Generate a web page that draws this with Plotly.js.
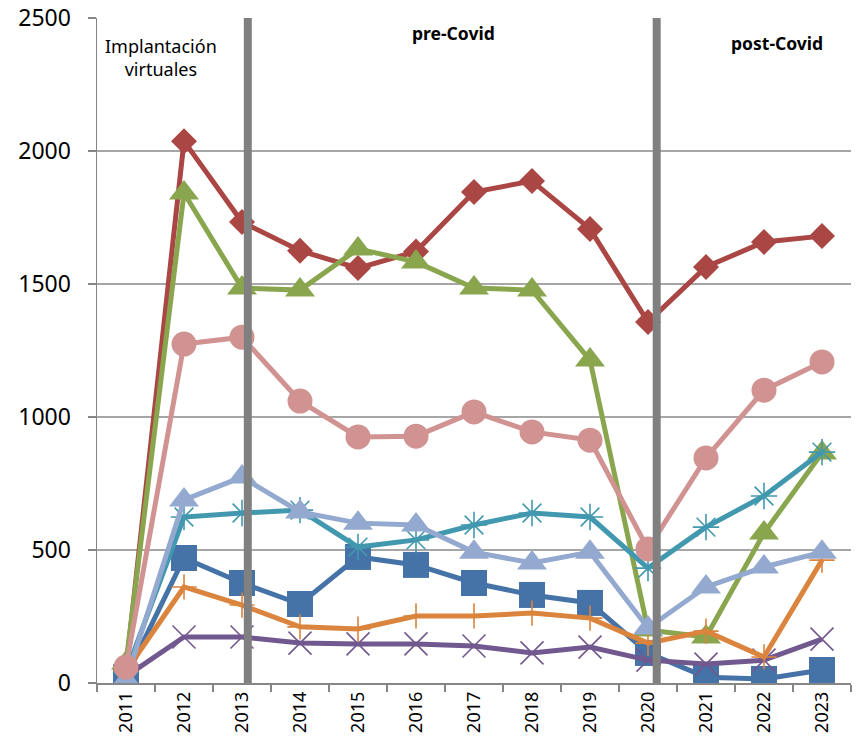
<!DOCTYPE html>
<html>
<head>
<meta charset="utf-8">
<script src="https://cdn.plot.ly/plotly-3.0.1.min.js"></script>
<style>html,body{margin:0;padding:0;background:#fff;}#chart{width:860px;height:744px;}</style>
</head>
<body>
<div id="chart"></div>
<script>
const years = ['2011','2012','2013','2014','2015','2016','2017','2018','2019','2020','2021','2022','2023'];

const seriesBlue   = [22, 470, 376, 297, 474, 444, 376, 331, 301, 113, 22, 15, 49];
const seriesRed    = [50, 2037, 1733, 1625, 1560, 1622, 1846, 1887, 1707, 1357, 1564, 1658, 1680];
const seriesGreen  = [75, 1842, 1485, 1477, 1632, 1583, 1485, 1477, 1214, 199, 173, 564, 865];
const seriesPurple = [25, 173, 173, 150, 147, 147, 139, 113, 135, 86, 71, 86, 165];
const seriesTeal   = [40, 624, 639, 650, 511, 538, 594, 639, 624, 432, 586, 703, 868];
const seriesOrange = [45, 361, 293, 211, 203, 252, 252, 263, 244, 150, 195, 98, 462];
const seriesLight  = [10, 688, 774, 643, 601, 594, 492, 451, 492, 207, 361, 436, 492];
const seriesPink   = [60, 1274, 1300, 1060, 925, 928, 1019, 944, 913, 504, 846, 1101, 1207];

const yTicks = [0, 500, 1000, 1500, 2000, 2500];

function tr(y, color, symbol, size, open) {
  const m = {symbol: symbol, size: size, color: color};
  if (open) m.line = {color: color, width: 1.6};
  return {x: years, y: y, type: 'scatter', mode: 'lines+markers',
          line: {color: color, width: 5}, marker: m, hoverinfo: 'skip'};
}

const data = [
  tr(seriesBlue,   '#4572A7', 'square', 26, false),
  tr(seriesRed,    '#AA4643', 'diamond', 20, false),
  tr(seriesGreen,  '#89A54E', 'triangle-up', 26, false),
  tr(seriesPurple, '#71588F', 'x-thin-open', 23, true),
  tr(seriesTeal,   '#4198AF', 'asterisk-open', 22, true),
  tr(seriesOrange, '#DB843D', 'cross-thin-open', 18, true),
  tr(seriesLight,  '#93A9CF', 'triangle-up', 26, false),
  tr(seriesPink,   '#D19392', 'circle', 25, false)
];

const layout = {
  width: 860, height: 744,
  margin: {l: 97, r: 9, t: 18, b: 61},
  paper_bgcolor: '#fff', plot_bgcolor: '#fff',
  showlegend: false,
  font: {family: 'Noto Sans, sans-serif', color: '#000'},
  xaxis: {
    type: 'category', range: [-0.5, 12.5],
    tickson: 'boundaries', ticks: 'outside', ticklen: 7, tickcolor: '#868686', tickwidth: 1.5,
    tickangle: -90, tickfont: {size: 18, family: 'Noto Sans'},
    showgrid: false, showline: true, linecolor: '#868686', linewidth: 1.5,
    zeroline: false, fixedrange: true
  },
  yaxis: {
    range: [0, 2500], tickvals: yTicks, ticktext: yTicks.map(String),
    ticks: 'outside', ticklen: 8, tickcolor: '#868686', tickwidth: 1.5,
    ticklabelstandoff: 12,
    tickfont: {size: 23, family: 'Noto Sans'},
    showgrid: true, gridcolor: '#A6A6A6', gridwidth: 1.5,
    showline: true, linecolor: '#868686', linewidth: 1.5,
    zeroline: false, fixedrange: true
  },
  shapes: [
    {type: 'line', xref: 'x', yref: 'paper', x0: 2.1, x1: 2.1, y0: 0, y1: 1,
     line: {color: '#808080', width: 8}},
    {type: 'line', xref: 'x', yref: 'paper', x0: 9.15, x1: 9.15, y0: 0, y1: 1,
     line: {color: '#808080', width: 8}}
  ],
  annotations: [
    {xref: 'x', yref: 'y', x: 0.6, y: 2350, text: 'Implantación<br>virtuales', showarrow: false,
     font: {size: 18, family: 'Noto Sans', color: '#000'}, align: 'center'},
    {xref: 'x', yref: 'y', x: 5.65, y: 2443, text: '<b>pre-Covid</b>', showarrow: false,
     font: {size: 17.5, family: 'Noto Sans', color: '#000'}},
    {xref: 'x', yref: 'y', x: 11.22, y: 2406, text: '<b>post-Covid</b>', showarrow: false,
     font: {size: 17.5, family: 'Noto Sans', color: '#000'}}
  ]
};

Plotly.newPlot('chart', data, layout, {displayModeBar: false, staticPlot: true});
</script>
</body>
</html>
